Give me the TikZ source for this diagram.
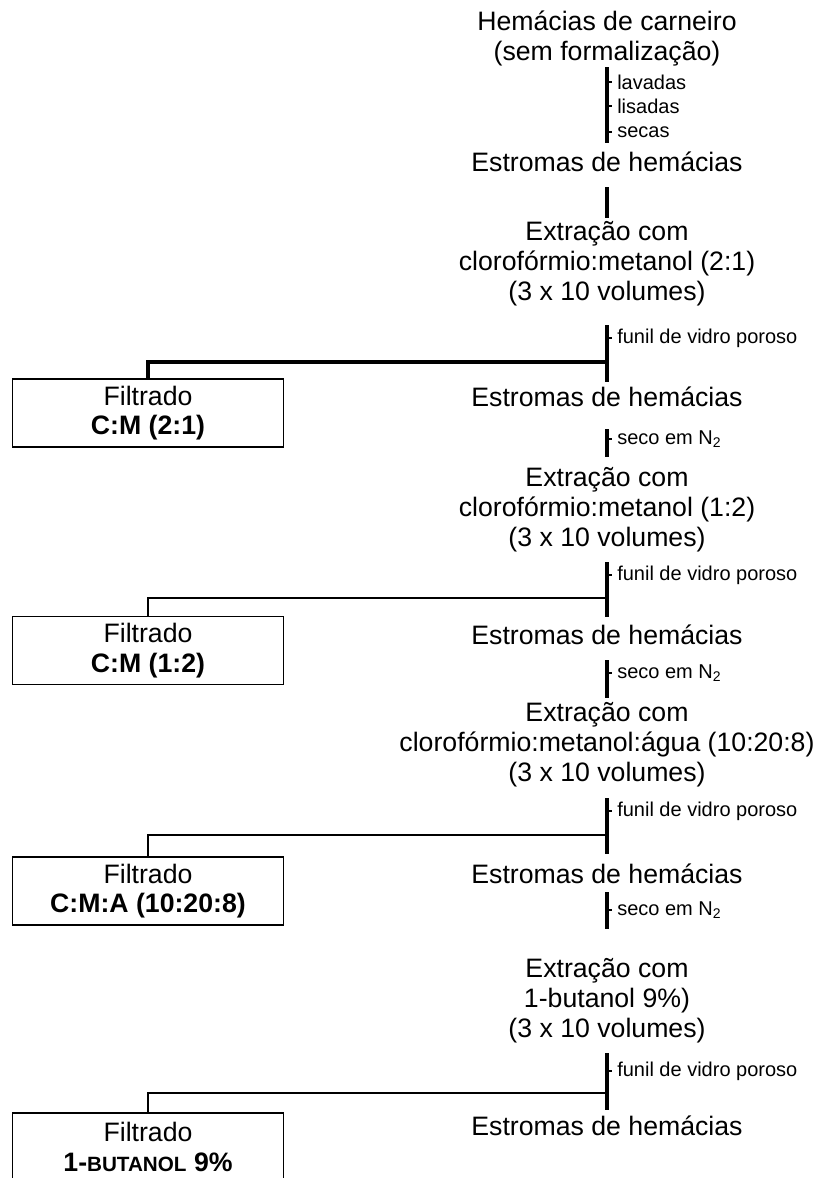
\documentclass[tikz,border=0pt]{standalone}
\usepackage{fontspec}
\setmainfont{Liberation Sans}
\tikzset{stage/.style={anchor=base,align=center,inner sep=0pt,font=\fontsize{20}{22.2}\selectfont},
  filtbox/.style={draw,line width=1.2pt,minimum width=203pt,minimum height=51pt,inner sep=0pt,align=center,font=\fontsize{20}{22.2}\selectfont},
  note/.style={anchor=west,inner sep=0pt,font=\fontsize{15}{17}\selectfont},
  stem/.style={line width=2.6pt},
  notch/.style={line width=1pt},
  branch/.style={line width=1.6pt}}

\begin{document}
\begin{tikzpicture}[x=0.75pt,y=-0.75pt]
  \path[use as bounding box] (0,0) rectangle (818,1178);
  % coluna central (base = ultima linha)
  \node[stage] (hem) at (607,60) {Hemácias de carneiro\\(sem formalização)};
  \node[stage] (est0) at (607,171) {Estromas de hemácias};
  \node[stage] (ext1) at (607,300) {Extração com\\clorofórmio:metanol (2:1)\\(3 x 10 volumes)};
  \node[stage] (est1) at (607,406) {Estromas de hemácias};
  \node[stage] (ext2) at (607,546) {Extração com\\clorofórmio:metanol (1:2)\\(3 x 10 volumes)};
  \node[stage] (est2) at (607,644) {Estromas de hemácias};
  \node[stage] (ext3) at (607,781) {Extração com\\clorofórmio:metanol:água (10:20:8)\\(3 x 10 volumes)};
  \node[stage] (est3) at (607,883) {Estromas de hemácias};
  \node[stage] (ext4) at (607,1037) {Extração com\\1-butanol 9\%)\\(3 x 10 volumes)};
  \node[stage] (est4) at (607,1135) {Estromas de hemácias};
  % filtrados
  \node[filtbox] (fil1) at (148,413) {Filtrado\\\textbf{C:M (2:1)}};
  \node[filtbox] (fil2) at (148,650.5) {Filtrado\\\textbf{C:M (1:2)}};
  \node[filtbox] (fil3) at (148,891) {Filtrado\\\textbf{C:M:A (10:20:8)}};
  \node[filtbox] (fil4) at (148,1147) {Filtrado\\\textbf{1-{\fontsize{15.5}{16}\selectfont BUTANOL} 9\%}};
  % hastes
  \draw[stem] (607,67) coordinate (s0a) -- (607,143) coordinate (s0b);
  \foreach \y/\t in {82/lavadas,106/lisadas,132/secas}{
    \draw[notch] (607,\y) -- (612,\y);
    \node[note] (n\y) at (617,\y) {\t};}
  \draw[stem] (607,187) coordinate (s1a) -- (607,218) coordinate (s1b);
  % funil e secagem
  \foreach \a/\k/\b/\t in {325/338/382/funil de vidro poroso,429/439/457/seco em N\textsubscript{2},
      562/575/617/funil de vidro poroso,660/673/698/seco em N\textsubscript{2},
      798/811/854/funil de vidro poroso,892/910/929/seco em N\textsubscript{2},
      1053/1071/1110/funil de vidro poroso}{
    \draw[stem] (607,\a) coordinate (t\a) -- (607,\b) coordinate (b\a);
    \draw[notch] (607,\k) -- (612,\k);
    \node[note] (n\k) at (617,\k) {\t};}
  \coordinate (j1) at (607,362);
  \coordinate (j2) at (607,598);
  \coordinate (j3) at (607,835);
  \coordinate (j4) at (607,1093);
  \draw[branch,line width=2.4pt] (j1) -| (fil1.north);
  \draw[branch] (j2) -| (fil2.north);
  \draw[branch] (j3) -| (fil3.north);
  \draw[branch] (j4) -| (fil4.north);
\end{tikzpicture}
\end{document}
